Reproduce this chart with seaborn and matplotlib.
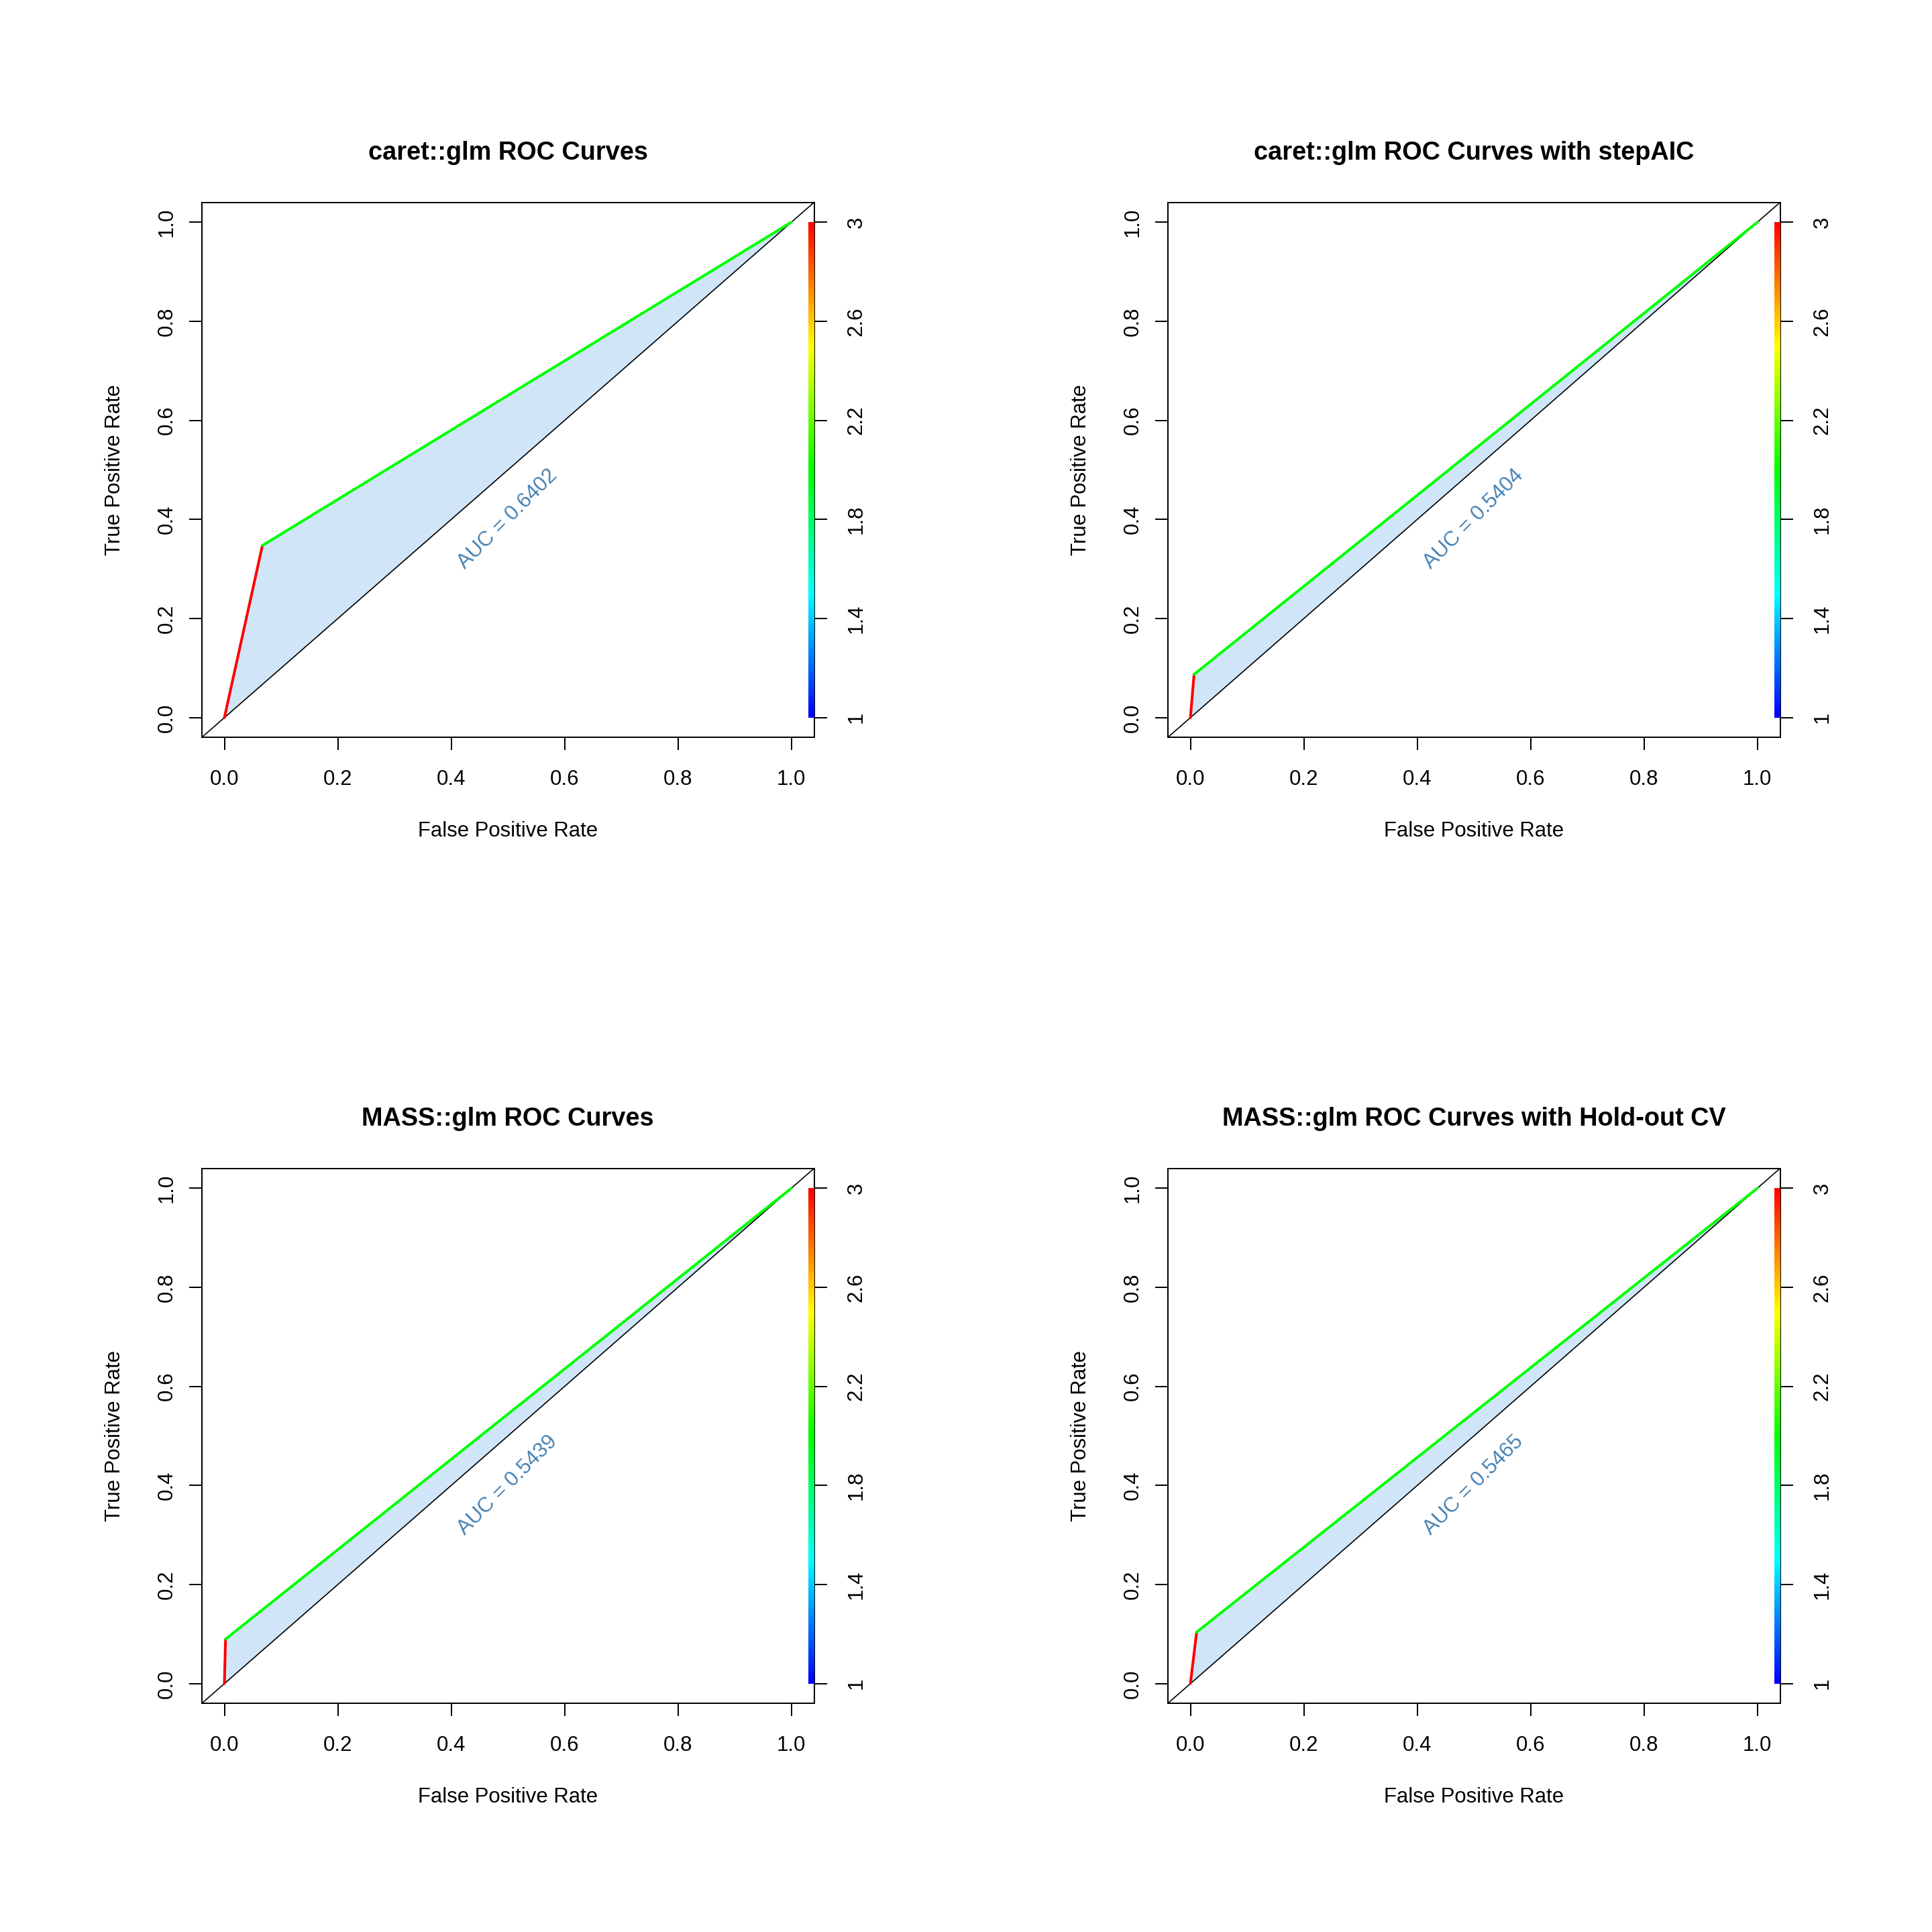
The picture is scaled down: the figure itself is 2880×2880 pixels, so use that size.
import numpy as np
import pandas as pd
import matplotlib
matplotlib.use('Agg')
from matplotlib import pyplot as plt
from matplotlib.colors import ListedColormap, Normalize, hsv_to_rgb
import seaborn as sns

# ROC data
titles = ['caret::glm ROC Curves', 'caret::glm ROC Curves with stepAIC',
          'MASS::glm ROC Curves', 'MASS::glm ROC Curves with Hold-out CV']
auc_values = [0.6402, 0.5404, 0.5439, 0.5465]
roc_fpr = [[0.0, 0.067, 1.0], [0.0, 0.0065, 1.0], [0.0, 0.002, 1.0], [0.0, 0.011, 1.0]]
roc_tpr = [[0.0, 0.3474, 1.0], [0.0, 0.0873, 1.0], [0.0, 0.0898, 1.0], [0.0, 0.104, 1.0]]
seg_cutoffs = [3, 2]            # cutoff that colours each curve segment
cutoff_ticks = [1, 1.4, 1.8, 2.2, 2.6, 3]
rate_ticks = [0.0, 0.2, 0.4, 0.6, 0.8, 1.0]

sns.set_style('white')
plt.rcParams['font.family'] = ['Liberation Sans', 'DejaVu Sans']
plt.rcParams['text.color'] = 'black'
plt.rcParams['axes.labelcolor'] = 'black'

DPI = 200
PT = 72 / DPI                   # points per pixel
BASE = 11.2
rainbow = ListedColormap([hsv_to_rgb((h, 1, 1)) for h in np.linspace(2 / 3, 0, 256)])
norm = Normalize(1, 3)

fig = plt.figure(figsize=(2880 / DPI, 2880 / DPI), dpi=DPI)

W, H = 912.8, 797.6
for i, title in enumerate(titles):
    row, col = divmod(i, 2)
    left = 300.7 + col * 1440
    top = 301.7 + row * 1440
    ax = fig.add_axes([left / 2880, 1 - (top + H) / 2880, W / 2880, H / 2880])

    fpr = np.array(roc_fpr[i])
    tpr = np.array(roc_tpr[i])

    ax.fill_between(fpr, tpr, fpr, color='#D0E6F8', lw=0, zorder=1)
    ax.axline((0, 0), (1, 1), color='black', lw=0.6, zorder=2)

    rows = []
    for s, c in enumerate(seg_cutoffs):
        for k in (s, s + 1):
            rows.append({'fpr': fpr[k], 'tpr': tpr[k], 'seg': s})
    df = pd.DataFrame(rows)
    pal = {s: rainbow(norm(c)) for s, c in enumerate(seg_cutoffs)}
    sns.lineplot(data=df, x='fpr', y='tpr', hue='seg', palette=pal, sort=False,
                 estimator=None, legend=False, lw=1.45, ax=ax, zorder=3)

    # colour key along the right edge
    grad = np.linspace(1, 3, 256).reshape(-1, 1)
    ax.imshow(grad, extent=[1.030, 1.0402, 0, 1], aspect='auto', origin='lower',
              cmap=rainbow, norm=norm, zorder=4, interpolation='nearest')

    ax.text(0.5, 0.4, f'AUC = {auc_values[i]:.4f}', rotation=45, ha='center',
            va='center', color='steelblue', fontsize=BASE)

    ax.set_xlim(-0.04, 1.04)
    ax.set_ylim(-0.04, 1.04)
    ax.set_xticks(rate_ticks)
    ax.set_yticks(rate_ticks)
    ax.set_xticklabels([f'{v:.1f}' for v in rate_ticks])
    ax.set_yticklabels([f'{v:.1f}' for v in rate_ticks])
    ax.tick_params(axis='both', direction='out', length=19 * PT, width=0.72,
                   color='black', labelsize=BASE, labelcolor='black',
                   bottom=True, left=True)
    ax.tick_params(axis='x', pad=28.7 * PT)
    ax.tick_params(axis='y', pad=18.4 * PT, labelrotation=90)
    for lbl in ax.get_yticklabels():
        lbl.set_va('center')

    ax.set_xlabel('False Positive Rate', fontsize=BASE, color='black')
    ax.set_ylabel('True Positive Rate', fontsize=BASE, color='black')
    ax.xaxis.set_label_coords(0.5, -124.3 / H)
    ax.yaxis.set_label_coords(-114.8 / W, 0.5)
    ax.set_title(title, fontweight='bold', fontsize=BASE * 1.22, color='black',
                 y=1 + 64 / H, pad=0)

    for sp in ax.spines.values():
        sp.set_color('black')
        sp.set_linewidth(0.72)
        sp.set_visible(True)

    tw = ax.twinx()
    tw.set_ylim(1 + 2 * -0.04, 1 + 2 * 1.04)
    tw.set_yticks(cutoff_ticks)
    tw.set_yticklabels([f'{v:g}' for v in cutoff_ticks])
    tw.tick_params(axis='y', direction='out', length=19 * PT, width=0.72,
                   color='black', labelsize=BASE, labelcolor='black',
                   pad=29 * PT, labelrotation=90, right=True)
    for lbl in tw.get_yticklabels():
        lbl.set_va('center')
    for sp in tw.spines.values():
        sp.set_visible(False)
    tw.grid(False)

fig.savefig('out.png', dpi=DPI, facecolor='white')
